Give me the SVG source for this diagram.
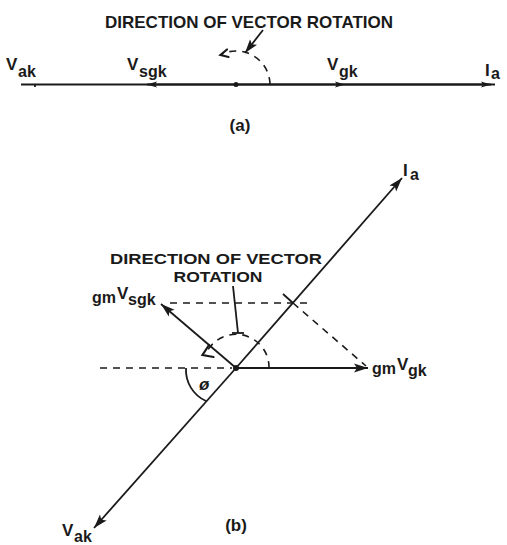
<svg xmlns="http://www.w3.org/2000/svg" width="507" height="545" viewBox="0 0 507 545">
<style>
text{font-family:"Liberation Sans","DejaVu Sans",sans-serif;fill:#1a1a1a}
.cap{font-size:17px;font-weight:bold}
.capb{font-size:15px;font-weight:bold}
.lbl{font-size:17px;font-weight:bold}
.sub{font-size:16px;font-weight:bold}
.ln{stroke:#1a1a1a;stroke-width:1.8;fill:none}
.dash{stroke:#1a1a1a;stroke-width:1.6;fill:none;stroke-dasharray:7 6}
.head{stroke:#1a1a1a;stroke-width:2.2;fill:none;stroke-linecap:round;stroke-linejoin:miter}
</style>
<defs>
<marker id="ah" markerUnits="userSpaceOnUse" markerWidth="16" markerHeight="10" refX="14" refY="5" orient="auto">
<path d="M0,0.5 L14,5 L0,9.5 L3,5 z" fill="#1a1a1a"/>
</marker>
<marker id="ahs" markerUnits="userSpaceOnUse" markerWidth="12" markerHeight="8" refX="10" refY="4" orient="auto">
<path d="M0,1 L10,4 L0,7 L2,4 z" fill="#1a1a1a"/>
</marker>
</defs>

<g id="part-a">
<g id="a-title"><text class="cap" x="249" y="28" text-anchor="middle" textLength="288" lengthAdjust="spacingAndGlyphs">DIRECTION OF VECTOR ROTATION</text></g>
<g id="a-center"><circle cx="236" cy="84.5" r="2.5" fill="#1a1a1a"/></g>
<g id="a-Vak"><text class="lbl" x="6" y="70">V</text><text class="sub" x="18" y="77">ak</text></g>
<g id="a-Vsgk"><text class="lbl" x="127" y="70">V</text><text class="sub" x="139" y="77">sgk</text></g>
<g id="a-Vgk"><text class="lbl" x="327" y="70">V</text><text class="sub" x="339" y="77">gk</text></g>
<g id="a-Ia"><text class="lbl" x="485" y="76">I</text><text class="sub" x="491" y="79">a</text></g>
<g id="a-label"><text class="cap" x="240" y="131" text-anchor="middle">(a)</text></g>
</g>

<g id="connectors-a">
<line class="ln" x1="21" y1="84.5" x2="495" y2="84.5" stroke-width="1.5"/>
<line class="ln" x1="236" y1="84.5" x2="147" y2="84.5" marker-end="url(#ahs)" stroke-width="1.5"/>
<line class="ln" x1="236" y1="84.5" x2="345" y2="84.5" marker-end="url(#ahs)" stroke-width="1.5"/>
<line class="ln" x1="345" y1="84.5" x2="491" y2="84.5" marker-end="url(#ahs)" stroke-width="1.5"/>
<line class="ln" x1="35" y1="84" x2="35" y2="87" stroke-width="1.5"/>
<path class="dash" d="M270,84 A34,34 0 0 0 222,54" stroke-dasharray="5 5"/>
<path class="head" d="M227,49.5 L220.5,55 L228.5,57"/>
<line class="ln" x1="263" y1="30" x2="245" y2="53" marker-end="url(#ah)"/>
</g>

<g id="part-b">
<g id="b-title"><text class="capb" x="216" y="264" text-anchor="middle" textLength="212" lengthAdjust="spacingAndGlyphs">DIRECTION OF VECTOR</text><text class="capb" x="218" y="282" text-anchor="middle" textLength="89" lengthAdjust="spacingAndGlyphs">ROTATION</text></g>
<g id="b-center"><circle cx="236" cy="368" r="3" fill="#1a1a1a"/></g>
<g id="b-Ia"><text class="lbl" x="403" y="176">I</text><text class="sub" x="410" y="180">a</text></g>
<g id="b-gmVsgk"><text class="sub" x="92" y="303">gm</text><text class="lbl" x="117" y="299">V</text><text class="sub" x="128" y="305">sgk</text></g>
<g id="b-gmVgk"><text class="sub" x="372" y="374">gm</text><text class="lbl" x="397" y="370">V</text><text class="sub" x="408" y="376">gk</text></g>
<g id="b-Vak"><text class="lbl" x="62" y="536">V</text><text class="sub" x="74" y="542">ak</text></g>
<g id="b-phi"><text class="lbl" x="199" y="390" font-style="italic">ø</text></g>
<g id="b-label"><text class="cap" x="236" y="531" text-anchor="middle">(b)</text></g>
</g>

<g id="connectors-b">
<line class="ln" x1="236" y1="368" x2="402" y2="178" marker-end="url(#ah)"/>
<line class="ln" x1="236" y1="368" x2="94" y2="528" marker-end="url(#ah)"/>
<line class="ln" x1="236" y1="368" x2="368" y2="368" marker-end="url(#ah)"/>
<line class="ln" x1="236" y1="368" x2="161" y2="304" marker-end="url(#ah)"/>
<line class="dash" x1="100" y1="368" x2="232" y2="368"/>
<line class="dash" x1="170" y1="303" x2="313" y2="303"/>
<line class="ln" x1="283" y1="294" x2="293" y2="303" stroke-width="1.4"/>
<line class="dash" x1="293" y1="303" x2="366" y2="366" stroke-width="1.4"/>
<path class="dash" d="M269,368 A33,33 0 0 0 205,356" stroke-dasharray="6 5" stroke-width="2"/>
<path class="head" d="M209,345 L202.5,355 L213.5,357"/>
<line class="ln" x1="233" y1="286" x2="238" y2="333" stroke-width="1.5"/>
<line class="ln" x1="232" y1="333" x2="244" y2="333" stroke-width="1.5"/>
<path class="ln" d="M186,368 A34,34 0 0 0 206,401" stroke-width="1.5"/>
</g>
</svg>
